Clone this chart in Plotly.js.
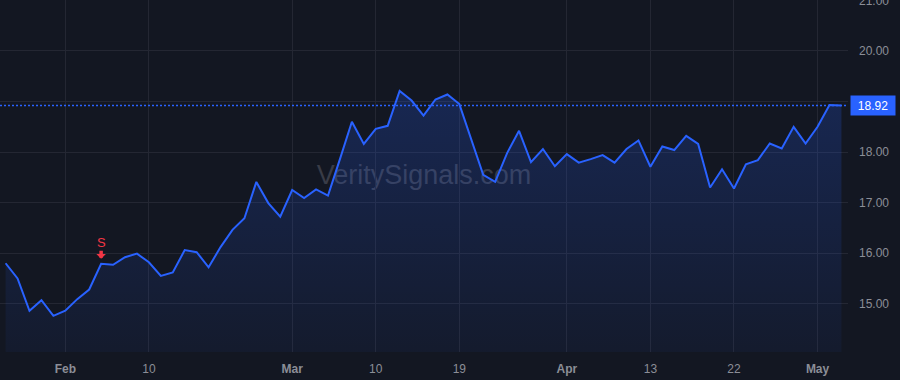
<!DOCTYPE html>
<html>
<head>
<meta charset="utf-8">
<script src="https://cdn.plot.ly/plotly-3.0.1.min.js"></script>
<style>
  html, body { margin: 0; padding: 0; background: #131722; }
  #chart { width: 900px; height: 380px; }
</style>
</head>
<body>
<div id="chart"></div>
<script>
// Closing prices, one per trading session (index = session number)
const prices = [
  15.80, 15.50, 14.86, 15.07, 14.76, 14.86, 15.09, 15.28, 15.79, 15.77,
  15.92, 15.99, 15.82, 15.55, 15.62, 16.06, 16.02, 15.72, 16.12, 16.46,
  16.69, 17.41, 16.99, 16.72, 17.25, 17.09, 17.26, 17.14, 17.86, 18.60,
  18.16, 18.46, 18.52, 19.21, 19.02, 18.72, 19.04, 19.14, 18.95, 18.24,
  17.55, 17.41, 17.98, 18.42, 17.80, 18.06, 17.72, 17.96, 17.79, 17.86,
  17.94, 17.79, 18.06, 18.23, 17.71, 18.11, 18.04, 18.32, 18.16, 17.30,
  17.66, 17.28, 17.76, 17.84, 18.17, 18.07, 18.50, 18.17, 18.50, 18.93,
  18.92
];

// Session index at which each date tick falls, and its label
const tickSessions = [5, 12, 24, 31, 38, 47, 54, 61, 68];
const tickLabels = ['<b>Feb</b>', '10', '<b>Mar</b>', '10', '19', '<b>Apr</b>', '13', '22', '<b>May</b>'];

// Price axis ticks
const priceTicks = [15, 16, 17, 18, 19, 20, 21];

// Signals
const signalSessions = [8];
const signalLabels = ['S'];

const watermark = 'VeritySignals.com';

const sessions = prices.map((_, i) => i);
const last = prices[prices.length - 1];

const BLUE = '#2962ff';
const RED = '#f23645';
const GRID = '#242733';
const TXT = '#8b8e97';
const FONT = 'Liberation Sans, Arial, Helvetica, sans-serif';

const traces = [{
  type: 'scatter',
  mode: 'lines',
  x: sessions,
  y: prices,
  line: { color: BLUE, width: 2 },
  fill: 'tozeroy',
  fillgradient: {
    type: 'vertical',
    start: 14.0,
    stop: 19.3,
    colorscale: [[0, 'rgba(41,98,255,0.05)'], [1, 'rgba(41,98,255,0.22)']]
  },
  hoverinfo: 'skip',
  showlegend: false
}];

const annotations = [];
signalSessions.forEach((s, k) => {
  annotations.push({
    x: s, y: prices[s], xref: 'x', yref: 'y',
    text: signalLabels[k],
    font: { family: FONT, size: 13, color: RED },
    showarrow: true, ax: 0, ay: -21,
    borderpad: 0,
    arrowcolor: RED, arrowhead: 1, arrowwidth: 3.5, arrowsize: 0.45,
    standoff: 5
  });
});
annotations.push({
  xref: 'paper', x: 1, xanchor: 'left', xshift: 2,
  yref: 'y', y: last, yanchor: 'middle',
  text: last.toFixed(2),
  showarrow: false,
  bgcolor: BLUE,
  font: { family: FONT, size: 12, color: '#ffffff' },
  width: 40, height: 15, borderpad: 2, align: 'center'
});

const layout = {
  width: 900, height: 380,
  margin: { l: 0, r: 52, t: 0, b: 28 },
  paper_bgcolor: '#131722',
  plot_bgcolor: '#131722',
  font: { family: FONT, size: 12, color: TXT },
  xaxis: {
    range: [-0.47, 70.55],
    tickmode: 'array',
    tickvals: tickSessions,
    ticktext: tickLabels,
    showgrid: true, gridcolor: GRID, gridwidth: 1,
    zeroline: false, showline: false, ticks: '',
    ticklabelstandoff: 8,
    tickfont: { family: FONT, size: 12, color: TXT },
    fixedrange: true
  },
  yaxis: {
    side: 'right',
    range: [14.044, 21.009],
    tickmode: 'array',
    tickvals: priceTicks,
    ticktext: priceTicks.map(v => v.toFixed(2)),
    showgrid: true, gridcolor: GRID, gridwidth: 1,
    zeroline: false, showline: false, ticks: '',
    ticklabelstandoff: 10,
    ticklabeloverflow: 'allow',
    tickfont: { family: FONT, size: 12, color: TXT },
    fixedrange: true
  },
  shapes: [
    {
      type: 'line', xref: 'paper', x0: 0, x1: 1, yref: 'y', y0: last, y1: last,
      line: { color: BLUE, width: 1.5, dash: '2px,2px' }, layer: 'above'
    },
    {
      type: 'rect', xref: 'paper', x0: 0.25, x1: 0.75, yref: 'paper', y0: 0.41, y1: 0.61,
      line: { width: 0 }, fillcolor: 'rgba(0,0,0,0)', layer: 'below',
      label: { text: watermark, textposition: 'middle center',
               font: { family: FONT, size: 27, color: '#393c47' } }
    }
  ],
  annotations: annotations,
  showlegend: false,
  hovermode: false
};

Plotly.newPlot('chart', traces, layout, { displayModeBar: false, staticPlot: true });
</script>
</body>
</html>
